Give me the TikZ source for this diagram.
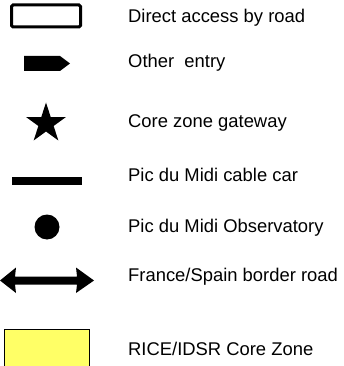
\documentclass[tikz,border=0pt]{standalone}
\usepackage{fontspec}
\setmainfont{Liberation Sans}
\usetikzlibrary{shapes.geometric}
\definecolor{zoneyellow}{HTML}{FFFF66}
\tikzset{
  label/.style={anchor=base west, inner sep=0pt, font=\fontsize{18.4}{20}\selectfont},
  symfill/.style={fill=black, draw=none}
}
\begin{document}
\begin{tikzpicture}[x=1pt,y=-1pt]
\useasboundingbox (0,0) rectangle (343,366);
% symbols
\node[draw=black, line width=3pt, rounded corners=1.5pt, minimum width=69pt, minimum height=22pt, inner sep=0pt] (road) at (46,16) {};
\node[label] (troad) at (128,22.3) {Direct access by road};
\fill[black] (24,56) -- (60,56) -- (70,63.5) -- (60,71) -- (24,71) -- cycle;
\coordinate (entry) at (47,63.5);
\node[label] (tentry) at (128,68) {Other\ \ entry};
\node[star, star points=5, star point ratio=2.62, minimum size=42pt, inner sep=0pt, symfill] (gate) at (46,123.5) {};
\node[label] (tgate) at (128,128) {Core zone gateway};
\coordinate (ccl) at (12,181);
\coordinate (ccr) at (82,181);
\draw[line width=8pt] (ccl) -- (ccr);
\node[label] (tcable) at (128,181) {Pic du Midi cable car};
\node[circle, minimum size=25pt, inner sep=0pt, symfill] (obs) at (47,227) {};
\node[label] (tobs) at (128,232.3) {Pic du Midi Observatory};
\fill[black] (0,280.5) -- (16,267.5) -- (15,276.5) -- (77,276.5) -- (76,267.5) -- (94,280.5) -- (76,293) -- (77,284.5) -- (15,284.5) -- (16,293) -- cycle;
\coordinate (border) at (47,280.5);
\node[label] (tborder) at (128,281.7) {France/Spain border road};
\filldraw[fill=zoneyellow, draw=black, line width=0.8pt] (4,370) -- (4,329) -- (89.5,329) -- (89.5,370);
\coordinate (zone) at (47,348);
\node[label] (tzone) at (128,355.5) {RICE/IDSR Core Zone};
\end{tikzpicture}
\end{document}
